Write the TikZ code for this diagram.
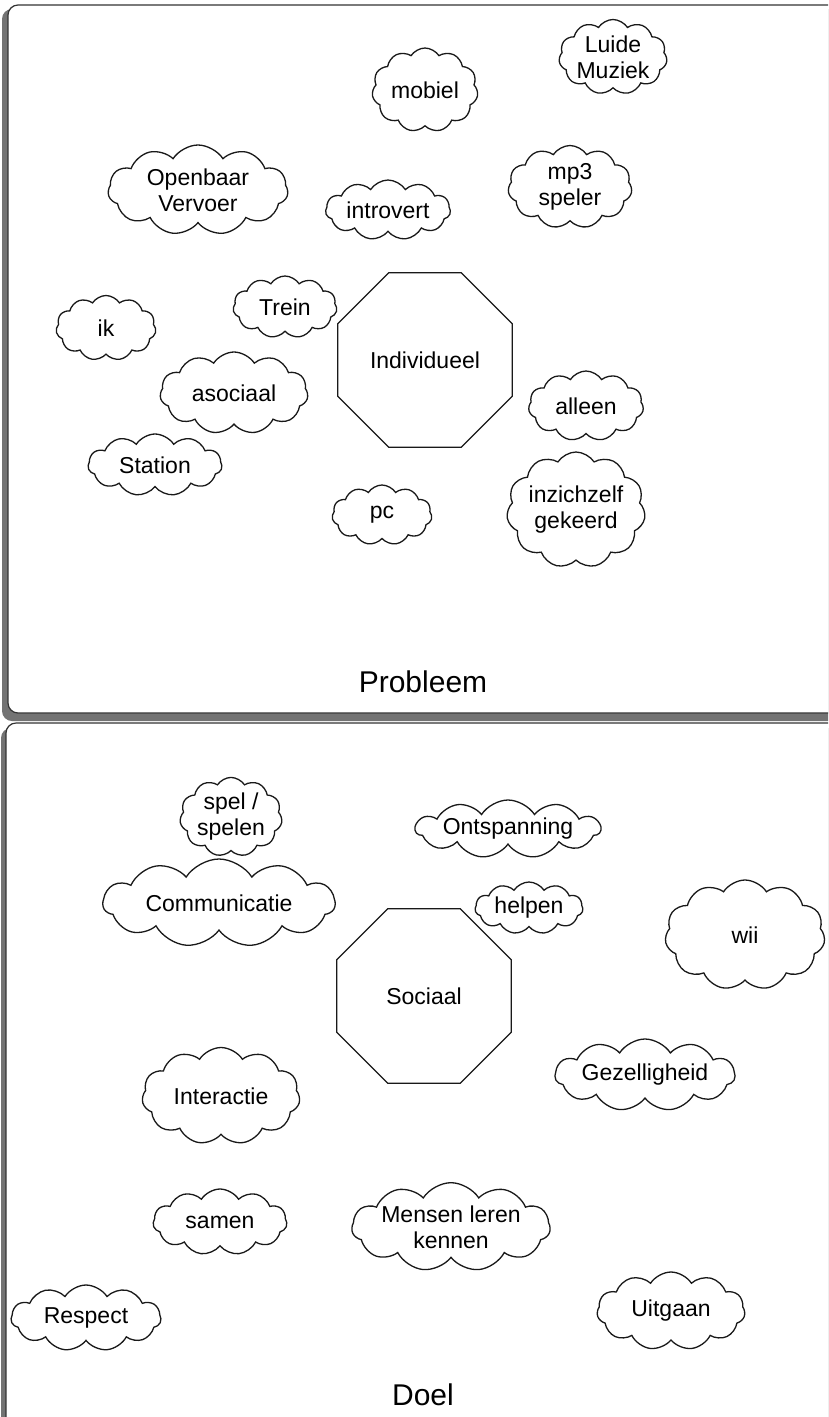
\documentclass[tikz,border=0pt]{standalone}
\usepackage{fontspec}
\setmainfont{Liberation Sans}
\usetikzlibrary{shapes.symbols,shapes.geometric}
\tikzset{
  cl/.style={cloud, draw=black!90, line width=1.3pt, fill=white, cloud puffs=11, cloud puff arc=115, cloud ignores aspect, inner sep=0pt, align=center, font=\fontsize{23}{26}\selectfont},
  oct/.style={regular polygon, regular polygon sides=8, draw=black!90, line width=1.3pt, inner sep=0pt, minimum size=189pt, font=\fontsize{23}{26}\selectfont},
  ttl/.style={font=\fontsize{30}{34}\selectfont, inner sep=0pt},
  panel/.style={draw=black!80, line width=1.2pt, fill=white, rounded corners=10pt},
  pshadow/.style={fill=black!55, draw=none, rounded corners=10pt}
}
\begin{document}
\begin{tikzpicture}[x=1pt,y=-1pt]
\useasboundingbox (0,0) rectangle (828,1417);
\clip (0,0) rectangle (828,1417);
\fill[white] (0,0) rectangle (828,1417);
% panels
\fill[pshadow] (2,9) rectangle (850,721);
\draw[panel] (8,5) rectangle (850,713);
\fill[pshadow] (1,728) rectangle (850,1440);
\draw[panel] (6,723) rectangle (850,1440);
% top panel
\node[oct] (indiv) at (425,360) {Individueel};
\node[cl, minimum width=105pt, minimum height=75pt] (luide) at (613,57) {Luide\\Muziek};
\node[cl, minimum width=106pt, minimum height=84pt] (mobiel) at (425,90) {mobiel};
\node[cl, minimum width=124pt, minimum height=83pt] (mp3) at (570,187) {mp3\\speler};
\node[cl, minimum width=180pt, minimum height=90pt] (ov) at (198,190) {Openbaar\\Vervoer};
\node[cl, minimum width=125pt, minimum height=60pt] (intro) at (388,210) {introvert};
\node[cl, minimum width=104pt, minimum height=62pt] (trein) at (285,307) {Trein};
\node[cl, minimum width=100pt, minimum height=65pt] (ik) at (106,328) {ik};
\node[cl, minimum width=148pt, minimum height=82pt] (asoc) at (234,393) {asociaal};
\node[cl, minimum width=115pt, minimum height=70pt] (alleen) at (586,406) {alleen};
\node[cl, minimum width=134pt, minimum height=62pt] (station) at (155,465) {Station};
\node[cl, minimum width=100pt, minimum height=60pt] (pc) at (382,515) {pc};
\node[cl, minimum width=136pt, minimum height=116pt] (inzich) at (576,510) {inzichzelf\\gekeerd};
\node[ttl] (probleem) at (423,682) {Probleem};
% bottom panel
\node[oct] (sociaal) at (424,996) {Sociaal};
\node[cl, minimum width=102pt, minimum height=68pt] (spel) at (231,817) {spel /\\spelen};
\node[cl, minimum width=185pt, minimum height=58pt] (ontsp) at (508,829) {Ontspanning};
\node[cl, minimum width=232pt, minimum height=88pt] (comm) at (219,903) {Communicatie};
\node[cl, minimum width=108pt, minimum height=52pt] (helpen) at (529,908) {helpen};
\node[cl, minimum width=160pt, minimum height=110pt] (wii) at (745,935) {wii};
\node[cl, minimum width=180pt, minimum height=72pt] (gez) at (645,1075) {Gezelligheid};
\node[cl, minimum width=158pt, minimum height=97pt] (inter) at (221,1096) {Interactie};
\node[cl, minimum width=134pt, minimum height=66pt] (samen) at (220,1222) {samen};
\node[cl, minimum width=162pt, minimum height=88pt] (mensen) at (451,1227) {Mensen leren\\kennen};
\node[cl, minimum width=148pt, minimum height=78pt] (uit) at (671,1311) {Uitgaan};
\node[cl, minimum width=150pt, minimum height=66pt] (resp) at (86,1318) {Respect};
\node[ttl] (doel) at (423,1395) {Doel};
\end{tikzpicture}
\end{document}
